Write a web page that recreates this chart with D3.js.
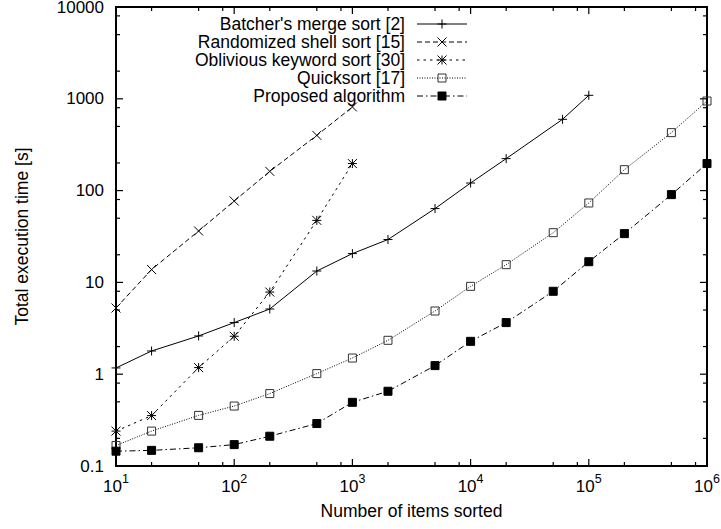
<!DOCTYPE html>
<html>
<head>
<meta charset="utf-8">
<script src="https://cdn.jsdelivr.net/npm/d3@7"></script>
<style>
  body { margin: 0; background: #fff; }
  svg text { font-family: "Liberation Sans", Arial, Helvetica, sans-serif; fill: #000; }
</style>
</head>
<body>
<svg id="chart" width="721" height="529"></svg>
<script>
// values (log-log)
const batcherN = [10, 20, 50, 100, 200, 500, 1000, 2000, 5000, 1e4, 2e4, 6e4, 1e5];
const batcherT = [1.17, 1.79, 2.61, 3.65, 5.13, 13.3, 20.6, 29.3, 63.7, 121, 223, 598, 1091];

const shellN = [10, 20, 50, 100, 200, 500, 1000];
const shellT = [5.26, 13.8, 36.3, 77, 162, 400, 815];

const keywordN = [10, 20, 50, 100, 200, 500, 1000];
const keywordT = [0.24, 0.354, 1.18, 2.59, 7.85, 47.4, 197];

const quickN = [10, 20, 50, 100, 200, 500, 1000, 2000, 5000, 1e4, 2e4, 5e4, 1e5, 2e5, 5e5, 1e6];
const quickT = [0.167, 0.24, 0.356, 0.45, 0.615, 1.015, 1.5, 2.34, 4.88, 9.06, 15.6, 34.8, 73.3, 169, 428, 946];

const proposedN = [10, 20, 50, 100, 200, 500, 1000, 2000, 5000, 1e4, 2e4, 5e4, 1e5, 2e5, 5e5, 1e6];
const proposedT = [0.145, 0.148, 0.158, 0.171, 0.211, 0.29, 0.494, 0.652, 1.24, 2.28, 3.65, 8.0, 16.8, 34, 90.4, 197];

const seriesNames = ["Batcher's merge sort [2]", "Randomized shell sort [15]", "Oblivious keyword sort [30]", "Quicksort [17]", "Proposed algorithm"];
const xTickValues = [1e1, 1e2, 1e3, 1e4, 1e5, 1e6];
const yTickLabels = ["0.1", "1", "10", "100", "1000", "10000"];

class SortChart {

  constructor(_config) {
    this.config = {
      parentElement: _config.parentElement,
      left: 116, right: 707, top: 7, bottom: 466
    };
    this.series = [
      { name: seriesNames[0], n: batcherN, t: batcherT, dash: null, marker: 'plus' },
      { name: seriesNames[1], n: shellN, t: shellT, dash: '5,3', marker: 'cross' },
      { name: seriesNames[2], n: keywordN, t: keywordT, dash: '2.5,4', marker: 'star' },
      { name: seriesNames[3], n: quickN, t: quickT, dash: '1,1.5', marker: 'box' },
      { name: seriesNames[4], n: proposedN, t: proposedT, dash: '6,3,1.5,3', marker: 'fbox' }
    ];
    this.initVis();
  }

  initVis() {
    let vis = this;
    const c = vis.config;
    vis.svg = d3.select(c.parentElement);

    vis.x = d3.scaleLog().domain([10, 1e6]).range([c.left, c.right]);
    vis.y = d3.scaleLog().domain([0.1, 10000]).range([c.bottom, c.top]);

    // minor ticks at 2, 5, 8 of each decade (as in the original)
    vis.xMinor = [];
    vis.yMinor = [];
    for (let e = -1; e < 6; e++) {
      [2, 5, 8].forEach(m => {
        const v = m * Math.pow(10, e);
        if (v > 10 && v < 1e6) vis.xMinor.push(v);
        if (v > 0.1 && v < 10000) vis.yMinor.push(v);
      });
    }
    vis.yMajor = yTickLabels.map(Number);

    vis.renderVis();
  }

  markerPath(type) {
    const r = 4.5;
    if (type === 'plus') return `M${-r},0H${r}M0,${-r}V${r}`;
    if (type === 'cross') return `M${-r},${-r}L${r},${r}M${-r},${r}L${r},${-r}`;
    if (type === 'star') return `M${-r},0H${r}M0,${-r}V${r}M${-r},${-r}L${r},${r}M${-r},${r}L${r},${-r}`;
    return `M-4,-4H4V4H-4Z`;
  }

  drawMarker(g, type, px, py) {
    let vis = this;
    const p = g.append('path')
      .attr('transform', `translate(${px},${py})`)
      .attr('d', vis.markerPath(type))
      .attr('stroke', type === 'box' ? '#333' : '#000')
      .attr('stroke-width', 1);
    if (type === 'fbox') p.attr('fill', '#000');
    else p.attr('fill', 'none');
  }

  renderVis() {
    let vis = this;
    const c = vis.config;
    const axes = vis.svg.append('g');

    // ticks on all four sides, pointing inward
    const tick = (x1, y1, x2, y2) => axes.append('line')
      .attr('x1', x1).attr('y1', y1).attr('x2', x2).attr('y2', y2)
      .attr('stroke', '#000').attr('stroke-width', 1.2);

    xTickValues.forEach(v => {
      const px = vis.x(v);
      tick(px, c.bottom, px, c.bottom - 7);
      tick(px, c.top, px, c.top + 7);
    });
    vis.xMinor.forEach(v => {
      const px = vis.x(v);
      tick(px, c.bottom, px, c.bottom - 4);
      tick(px, c.top, px, c.top + 4);
    });
    vis.yMajor.forEach(v => {
      const py = vis.y(v);
      tick(c.left, py, c.left + 7, py);
      tick(c.right, py, c.right - 7, py);
    });
    vis.yMinor.forEach(v => {
      const py = vis.y(v);
      tick(c.left, py, c.left + 4, py);
      tick(c.right, py, c.right - 4, py);
    });

    // frame
    axes.append('rect')
      .attr('x', c.left).attr('y', c.top)
      .attr('width', c.right - c.left).attr('height', c.bottom - c.top)
      .attr('fill', 'none').attr('stroke', '#000').attr('stroke-width', 2);

    // x tick labels 10^k
    xTickValues.forEach(v => {
      const t = axes.append('text')
        .attr('x', vis.x(v)).attr('y', 492)
        .attr('text-anchor', 'middle')
        .attr('font-size', 17);
      t.append('tspan').text('10');
      t.append('tspan').attr('dy', -9).attr('font-size', 12.5).text(Math.round(Math.log10(v)));
    });

    // y tick labels
    yTickLabels.forEach(s => {
      axes.append('text')
        .attr('x', 104).attr('y', vis.y(+s))
        .attr('text-anchor', 'end')
        .attr('dominant-baseline', 'central')
        .attr('font-size', 17)
        .text(s);
    });

    // axis titles
    axes.append('text')
      .attr('x', (c.left + c.right) / 2).attr('y', 517)
      .attr('text-anchor', 'middle')
      .attr('font-size', 17.5)
      .text('Number of items sorted');
    axes.append('text')
      .attr('transform', `translate(28,${(c.top + c.bottom) / 2}) rotate(-90)`)
      .attr('text-anchor', 'middle')
      .attr('font-size', 17.5)
      .text('Total execution time [s]');

    const line = d3.line()
      .x(d => vis.x(d[0]))
      .y(d => vis.y(d[1]));

    vis.series.forEach((s, i) => {
      const g = vis.svg.append('g');
      const pts = s.n.map((n, j) => [n, s.t[j]]);
      g.append('path')
        .datum(pts)
        .attr('d', line)
        .attr('fill', 'none')
        .attr('stroke', '#000')
        .attr('stroke-width', 1)
        .attr('stroke-dasharray', s.dash);
      pts.forEach(d => vis.drawMarker(g, s.marker, vis.x(d[0]), vis.y(d[1])));

      // legend row
      const ly = 24 + i * 18;
      g.append('text')
        .attr('x', 405).attr('y', ly)
        .attr('text-anchor', 'end')
        .attr('dominant-baseline', 'central')
        .attr('font-size', 17.5)
        .text(s.name);
      g.append('line')
        .attr('x1', 417).attr('x2', 467).attr('y1', ly).attr('y2', ly)
        .attr('stroke', '#000').attr('stroke-width', 1)
        .attr('stroke-dasharray', s.dash);
      vis.drawMarker(g, s.marker, 442, ly);
    });
  }
}

new SortChart({ parentElement: '#chart' });
</script>
</body>
</html>
